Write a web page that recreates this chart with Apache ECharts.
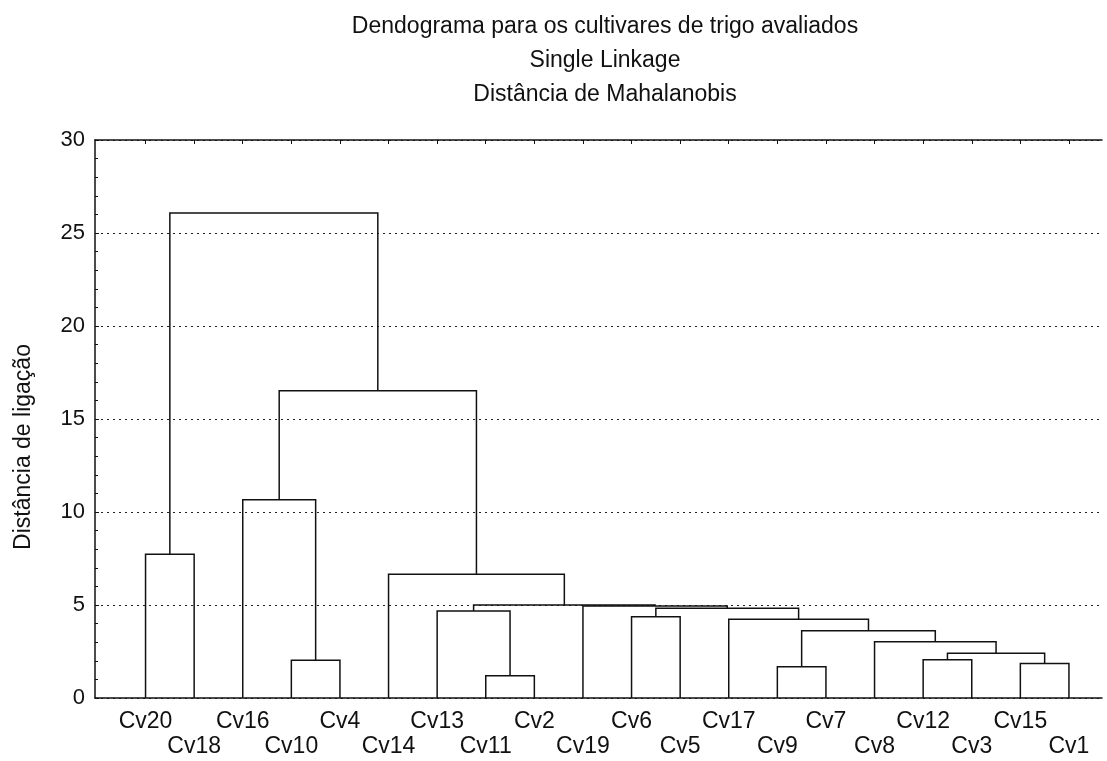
<!DOCTYPE html>
<html>
<head>
<meta charset="utf-8">
<script src="https://cdn.jsdelivr.net/npm/echarts@6/dist/echarts.min.js"></script>
<style>
html,body{margin:0;padding:0;background:#fff;}
#main{width:1107px;height:761px;}
</style>
</head>
<body>
<div id="main"></div>
<script>
// Leaves in dendrogram order (left to right)
const leaves = ['Cv20','Cv18','Cv16','Cv10','Cv4','Cv14','Cv13','Cv11','Cv2','Cv19',
                'Cv6','Cv5','Cv17','Cv9','Cv7','Cv8','Cv12','Cv3','Cv15','Cv1'];
// Merges: indices < 20 are leaves, index 20+k refers to merge k
const mergeLeft   = [7, 13, 18, 3, 16, 24, 15, 21, 12, 10, 6, 29, 9, 30, 5, 0, 2, 36, 35];
const mergeRight  = [8, 14, 19, 4, 17, 22, 25, 26, 27, 11, 20, 28, 31, 32, 33, 1, 23, 34, 37];
const mergeHeight = [1.20, 1.68, 1.86, 2.03, 2.06, 2.40, 3.03, 3.62, 4.23, 4.37, 4.68, 4.82, 4.95, 5.00, 6.65, 7.73, 10.66, 16.52, 26.08];
const yTicks = [0, 5, 10, 15, 20, 25, 30];

const titleLines = ['Dendograma para os cultivares de trigo avaliados', 'Single Linkage', 'Distância de Mahalanobis'];
const yName = 'Distância de ligação';

// Build node positions
const nodeX = leaves.map((_, i) => i);
const nodeH = leaves.map(() => 0);
const segs = [];
for (let k = 0; k < mergeLeft.length; k++) {
  const a = mergeLeft[k], b = mergeRight[k], h = mergeHeight[k];
  const xa = nodeX[a], xb = nodeX[b];
  segs.push({coords: [[xa, nodeH[a]], [xa, h], [xb, h], [xb, nodeH[b]]]});
  nodeX.push((xa + xb) / 2);
  nodeH.push(h);
}
const leafIdx = leaves.map((_, i) => i);
const evenIdx = leafIdx.filter(i => i % 2 === 0);
const oddIdx = leafIdx.filter(i => i % 2 === 1);

const FONT = '"Liberation Sans", Arial, sans-serif';
const X_MIN = -1.04, X_MAX = 19.68;
const labelStyle = {fontFamily: FONT, fontSize: 23, color: '#111'};
const chart = echarts.init(document.getElementById('main'), null, {renderer: 'canvas'});
chart.setOption({
  animation: false,
  backgroundColor: '#fff',
  title: {
    text: titleLines.join('\n'),
    left: 600,
    top: 5,
    textAlign: 'center',
    textStyle: {fontFamily: FONT, fontSize: 23, fontWeight: 'normal', color: '#111', lineHeight: 34}
  },
  grid: {left: 95, right: 5, top: 140, bottom: 63, containLabel: false},
  xAxis: [{
    type: 'value', position: 'bottom', min: X_MIN, max: X_MAX,
    axisLine: {show: true, onZero: false, lineStyle: {color: '#111', width: 1.5}},
    axisTick: {show: false},
    splitLine: {show: false},
    axisLabel: Object.assign({
      show: true, customValues: evenIdx, margin: 12, hideOverlap: false,
      formatter: function (v) { return leaves[Math.round(v)]; }
    }, labelStyle)
  }, {
    type: 'value', position: 'top', min: X_MIN, max: X_MAX,
    axisLine: {show: true, onZero: false, lineStyle: {color: '#111', width: 1.5}},
    axisTick: {show: true, inside: true, length: 4, customValues: leafIdx, lineStyle: {color: '#111'}},
    axisLabel: {show: false},
    splitLine: {show: false}
  }, {
    type: 'value', position: 'bottom', min: X_MIN, max: X_MAX,
    axisLine: {show: false, onZero: false},
    axisTick: {show: false},
    splitLine: {show: false},
    axisLabel: Object.assign({
      show: true, customValues: oddIdx, margin: 37, hideOverlap: false,
      formatter: function (v) { return leaves[Math.round(v)]; }
    }, labelStyle)
  }],
  yAxis: {
    type: 'value', min: 0, max: 30, interval: 5,
    axisLine: {show: true, onZero: false, lineStyle: {color: '#111', width: 1.5}},
    axisTick: {show: true, inside: true, length: 4, lineStyle: {color: '#111'}},
    minorTick: {show: true, splitNumber: 5, length: 3, lineStyle: {color: '#111'}},
    axisLabel: {fontFamily: FONT, fontSize: 22, color: '#111', margin: 10},
    splitLine: {show: true, lineStyle: {color: '#222', type: [2, 4], width: 1}}
  },
  graphic: [{
    type: 'text', x: 24, y: 447, rotation: Math.PI / 2,
    style: {text: yName, font: '23px ' + FONT, fill: '#111', align: 'center', verticalAlign: 'middle'}
  }],
  series: [{
    type: 'lines',
    coordinateSystem: 'cartesian2d',
    xAxisIndex: 0,
    polyline: true,
    silent: true,
    lineStyle: {color: '#111', width: 1.5, opacity: 1},
    data: segs
  }]
});
</script>
</body>
</html>
